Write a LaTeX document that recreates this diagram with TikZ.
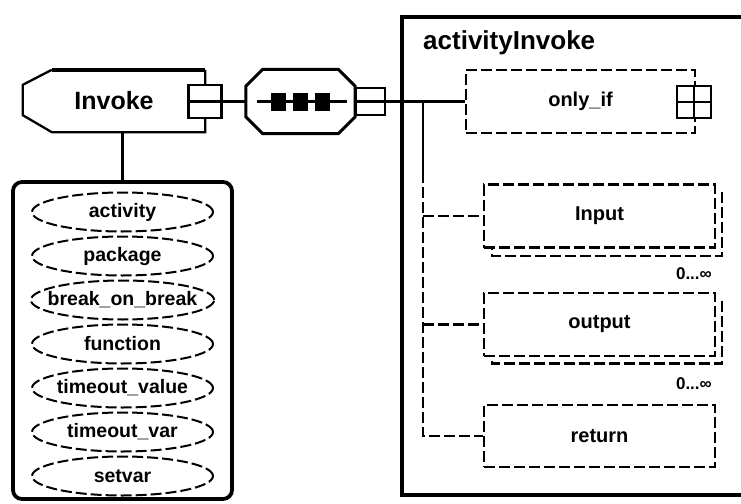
\documentclass[tikz,border=0pt]{standalone}
\usepackage{fontspec}
\setmainfont{Liberation Sans}
\usetikzlibrary{shapes.geometric}
\begin{document}
\begin{tikzpicture}[x=1pt,y=-1pt,
  ln/.style={line width=2.3pt},
  thk/.style={line width=3.8pt},
  dsh/.style={dash pattern=on 11pt off 4pt},
  elem/.style={draw, dsh, line width=2.3pt, minimum width=231pt, minimum height=63pt, inner sep=0pt, font=\fontsize{20}{20}\selectfont\bfseries},
  attr/.style={ellipse, draw, dsh, line width=2pt, minimum width=181pt, minimum height=39pt, inner sep=0pt, inner xsep=-10pt, font=\fontsize{19.5}{19.5}\selectfont\bfseries},
  pmbox/.style={draw, fill=white, line width=2.5pt, inner sep=0pt},
  card/.style={font=\fontsize{17}{17}\selectfont\bfseries, anchor=east, inner sep=0pt},
  sq/.style={fill=black, minimum width=15pt, minimum height=18pt, inner sep=0pt}
]
\useasboundingbox (0,0) rectangle (741,503);
\clip (0,0) rectangle (741,503);

% Invoke element
\node[minimum width=182pt, minimum height=62pt, inner sep=0pt, font=\fontsize{25}{25}\selectfont\bfseries] (inv) at (114,101) {Invoke};
\draw[ln] ([xshift=29pt]inv.north west) -- ([yshift=-15pt]inv.north west) -- ([yshift=17pt]inv.south west) -- ([xshift=29pt]inv.south west) -- (inv.south east) -- (inv.north east);
\draw[line width=4pt] ([xshift=29pt]inv.north west) -- (inv.north east);
\node[pmbox, minimum width=33pt, minimum height=33pt] (invm) at (205,101.5) {};
\draw[ln] (invm.west) -- (invm.east);

% sequence compositor
\node[minimum width=109pt, minimum height=64pt, inner sep=0pt] (seq) at (300.5,101.5) {};
\draw[line width=3pt] ([xshift=17pt]seq.north west) -- ([xshift=-17pt]seq.north east) -- ([yshift=-17pt]seq.north east) -- ([yshift=17pt]seq.south east) -- ([xshift=-17pt]seq.south east) -- ([xshift=17pt]seq.south west) -- ([yshift=17pt]seq.south west) -- ([yshift=-17pt]seq.north west) -- cycle;
\draw[ln] ([xshift=11pt]seq.west) -- ([xshift=-8pt]seq.east);
\node[sq] (s1) at (278,101.5) {};
\node[sq] (s2) at (300,101.5) {};
\node[sq] (s3) at (322,101.5) {};
\draw[ln] (invm.east) -- (seq.west);
\node[pmbox, minimum width=29pt, minimum height=27pt] (seqm) at (370.5,101.5) {};
\draw[ln] (seqm.west) -- (seqm.east);

% container
\node[draw, thk, minimum width=345pt, minimum height=478pt, inner sep=0pt, anchor=north west] (cont) at (400,15) {};
\node[anchor=base west, inner sep=0pt, font=\fontsize{26}{26}\selectfont\bfseries] (title) at (423,50) {activityInvoke};

% only_if
\node[elem, minimum width=229pt] (onlyif) at (580.5,101.5) {only\_if};
\node[pmbox, minimum width=34pt, minimum height=32pt] (plus) at (694,102) {};
\draw[ln] (plus.west) -- (plus.east) (plus.north) -- (plus.south);
\draw[ln] (seqm.east) -- (onlyif.west);

% input
\draw[ln,dsh] (599.5,216) ++(122.5,-24) -- ++(0,64) -- ++(-230,0) -- ++(0,-8);
\node[elem, fill=white] (inp) at (599.5,216) {Input};
\node[card] (c1) at (712,274) {0...∞};

% output
\draw[ln,dsh] (599.5,324.5) ++(122.5,-24) -- ++(0,63) -- ++(-230,0) -- ++(0,-8);
\node[elem, fill=white] (outp) at (599.5,324.5) {output};
\node[card] (c2) at (712,384) {0...∞};

% return
\node[elem, minimum height=62pt] (ret) at (599.5,436) {return};

% trunk
\coordinate (tr) at (423,101.5);
\coordinate (tr2) at (423,172);
\draw[ln] (tr) -- (tr2);
\draw[ln,dsh] (tr2) -- (tr |- ret.west) -- (ret.west);
\draw[ln,dsh] (tr |- inp.west) -- (inp.west);
\draw[ln,dsh] (tr |- outp.west) -- (outp.west);

% attributes
\node[draw, thk, rounded corners=9pt, minimum width=219pt, minimum height=317pt, inner sep=0pt] (attrs) at (122.5,340.5) {};
\draw[ln] (inv.south -| attrs.north) -- (attrs.north);
\node[attr] (a1) at (122.5,212) {activity};
\node[attr] (a2) at (122.5,256) {package};
\node[attr] (a3) at (122.5,300) {break\_on\_break};
\node[attr] (a4) at (122.5,344) {function};
\node[attr] (a5) at (122.5,388) {timeout\_value};
\node[attr] (a6) at (122.5,432) {timeout\_var};
\node[attr] (a7) at (122.5,476) {setvar};
\end{tikzpicture}
\end{document}
